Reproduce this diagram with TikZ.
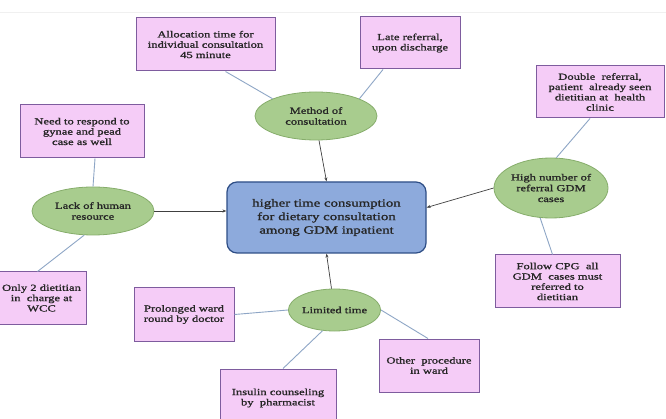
\documentclass[tikz,border=0pt]{standalone}
\usepackage{fontspec}
\setmainfont{Liberation Serif}
\newfontfamily\wfont[FakeStretch=1.35,FakeBold=1.4]{Liberation Serif}
\usetikzlibrary{shapes.geometric,arrows.meta}
\definecolor{pinkfill}{HTML}{F5CCF7}
\definecolor{pinkline}{HTML}{7E5C9E}
\definecolor{greenfill}{HTML}{A8CC8E}
\definecolor{greenline}{HTML}{86AD6B}
\definecolor{bluefill}{HTML}{8DAADC}
\definecolor{blueline}{HTML}{2E4E86}
\definecolor{linkcol}{HTML}{8EA6C6}
\definecolor{txt}{HTML}{262626}
\tikzset{
  pbox/.style={draw=pinkline,fill=pinkfill,line width=1pt,align=center,inner sep=0pt,
    font=\wfont\fontsize{9.3}{10.3}\selectfont,text=txt},
  gell/.style={ellipse,draw=greenline,fill=greenfill,line width=0.8pt,align=center,inner sep=0pt,
    font=\wfont\fontsize{9.3}{10.8}\selectfont,text=txt},
  cbox/.style={draw=blueline,fill=bluefill,line width=1.2pt,rounded corners=10pt,align=center,
    inner sep=0pt,font=\wfont\fontsize{11}{13.5}\selectfont,text=txt},
  link/.style={draw=linkcol,line width=0.9pt},
  arr/.style={draw=black!75,line width=0.7pt,-{Stealth[length=4pt,width=3pt]}}
}
\begin{document}
\begin{tikzpicture}[x=1pt,y=-1pt]
\useasboundingbox (0,0) rectangle (666,419);
\fill[white] (0,0) rectangle (666,419);
\draw[black!6,line width=0.6pt] (0,12) -- (666,12);
% central
\node[cbox,minimum width=199pt,minimum height=71pt] (central) at (326.5,217.5)
  {higher time consumption\\for dietary consultation\\among GDM inpatient};
% ellipses
\node[gell,minimum width=122pt,minimum height=48pt] (method) at (316,116) {Method of\\consultation};
\node[gell,minimum width=122pt,minimum height=48pt] (lack) at (93,211) {Lack of human\\resource};
\node[gell,minimum width=114pt,minimum height=60pt] (high) at (551,188) {High number of\\referral GDM\\cases};
\node[gell,minimum width=85pt,minimum height=42pt] (limited) at (334.5,310) {Limited time};
% pink boxes
\node[pbox,minimum width=139pt,minimum height=53pt] (alloc) at (205.5,44.5)
  {Allocation time for\\individual consultation\\45 minute};
\node[pbox,minimum width=100pt,minimum height=52pt] (late) at (410,43)
  {Late referral,\\upon discharge};
\node[pbox,minimum width=128pt,minimum height=52pt] (double) at (600,92)
  {Double\ \ referral,\\patient\ \ already seen\\dietitian at\ \ health\\clinic};
\node[pbox,minimum width=124pt,minimum height=53pt] (need) at (82,131.5)
  {Need to respond to\\gynae and pead\\case as well};
\node[pbox,minimum width=90pt,minimum height=52pt] (only) at (41.5,298)
  {Only 2\ dietitian\\in\ \ charge at\\WCC};
\node[pbox,minimum width=100pt,minimum height=53pt] (prolonged) at (184,314.5)
  {Prolonged ward\\round by doctor};
\node[pbox,minimum width=116pt,minimum height=58pt] (insulin) at (278,398)
  {Insulin counseling\\by\ \ pharmacist};
\node[pbox,minimum width=100pt,minimum height=53pt] (other) at (429,365.5)
  {Other\ \ procedure\\in ward};
\node[pbox,minimum width=125pt,minimum height=53pt] (follow) at (557.5,281.5)
  {Follow CPG\ \ all\\GDM\ \ cases must\\referred to\\dietitian};
% links
\draw[link] ([xshift=20pt]alloc.south) -- (method.north west);
\draw[link] ([xshift=-27pt]late.south) -- (method.north east);
\draw[link] ([xshift=13pt]need.south) -- (lack.north);
\draw[link] (lack.250) -- ([xshift=-4pt]only.north);
\draw[link] ([xshift=-10pt]double.south) -- (high.80);
\draw[link] (high.250) -- ([xshift=-5pt]follow.north);
\draw[link] (prolonged.east) -- (limited.west);
\draw[link] (limited.240) -- ([xshift=5pt]insulin.north);
\draw[link] (limited.east) -- ([xshift=-1pt]other.north);
% arrows
\draw[arr] ([xshift=3pt]method.south) -- (central.north);
\draw[arr] (lack.east) -- (lack.east -| central.west);
\draw[arr] (high.west) -- ([yshift=10pt]central.east);
\draw[arr] ([xshift=-3pt]limited.north) -- (central.south);
\end{tikzpicture}
\end{document}
